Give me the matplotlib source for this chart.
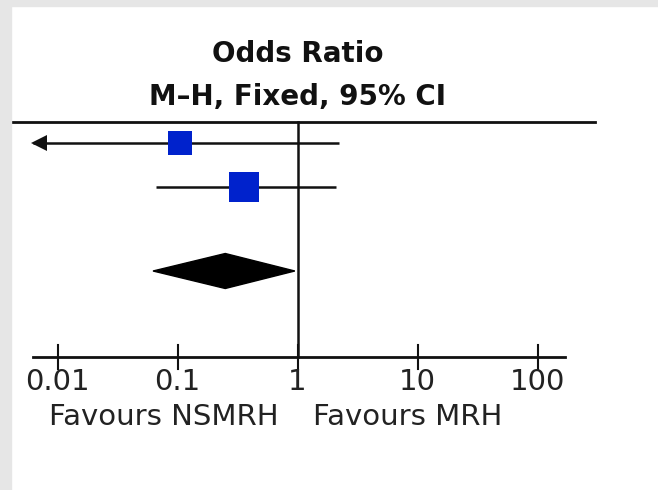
import numpy as np
import matplotlib.pyplot as plt
from matplotlib.patches import Rectangle, Polygon

# study rows (odds ratio, 95% CI) and weight-ish square size
study_or = [0.105, 0.36]
study_lo = [0.003, 0.066]
study_hi = [2.22, 2.09]
study_size = [17, 21]
pooled_or, pooled_lo, pooled_hi = 0.25, 0.0625, 0.95

tick_vals = [0.01, 0.1, 1, 10, 100]
tick_labels = ['0.01', '0.1', '1', '10', '100']
axis_lo, axis_hi = 0.00625, 170

W, H = 658, 490
fig = plt.figure(figsize=(W / 100, H / 100), dpi=100)
fig.patch.set_facecolor('white')
# grey frame strips on top and left
fig.patches.append(Rectangle((0, 1 - 6 / H), 1, 6 / H, transform=fig.transFigure,
                             color='#e6e6e6', zorder=0))
fig.patches.append(Rectangle((0, 0), 11 / W, 1, transform=fig.transFigure,
                             color='#e6e6e6', zorder=0))

ax = fig.add_axes([0, 0, 1, 1])
ax.set_xscale('log')
x1, dec = 297.5, 120.0  # pixel of OR=1, pixels per decade
ax.set_xlim(10 ** ((0 - x1) / dec), 10 ** ((W - x1) / dec))
ax.set_ylim(H, 0)
ax.axis('off')
ax.patch.set_alpha(0)

col = '#111111'
y_top, y_axis = 122, 357
row_y = [143, 187]
pool_y, pool_h = 271, 17.5
arrow_tip = 10 ** ((39 - x1) / dec)  # marker centre so the tip sits at the axis end

# header line and null line
ax.plot([10 ** ((11 - x1) / dec), 10 ** ((595 - x1) / dec)], [y_top, y_top], color=col, lw=2)
ax.plot([1, 1], [y_top, y_axis], color=col, lw=1.8)

for y, o, lo, hi, s in zip(row_y, study_or, study_lo, study_hi, study_size):
    left = max(lo, axis_lo)
    ax.plot([left, hi], [y, y], color=col, lw=1.8, solid_capstyle='butt')
    if lo < axis_lo:
        ax.plot(arrow_tip, y, marker='<', color=col, ms=11, mew=0)
    ax.plot(o, y, marker='s', color='#0022cc', ms=s, mew=0, zorder=3)

ax.add_patch(Polygon([(pooled_lo, pool_y), (pooled_or, pool_y - pool_h),
                      (pooled_hi, pool_y), (pooled_or, pool_y + pool_h)],
                     closed=True, color='black', zorder=3))

# x axis
ax.plot([axis_lo, axis_hi], [y_axis, y_axis], color=col, lw=2)
for v, lab in zip(tick_vals, tick_labels):
    ax.plot([v, v], [y_axis - 12, y_axis + 12], color=col, lw=1.5)
    ax.text(v, y_axis + 11, lab, ha='center', va='top', fontsize=21, color='#222222')

ax.text(0.7, 403, 'Favours NSMRH', ha='right', va='top', fontsize=21, color='#222222')
ax.text(1.35, 403, 'Favours MRH', ha='left', va='top', fontsize=21, color='#222222')

ax.text(1, 54, 'Odds Ratio', ha='center', va='center', fontsize=20, fontweight='bold', color='#111111')
ax.text(1, 97, 'M\u2013H, Fixed, 95% CI', ha='center', va='center', fontsize=20,
        fontweight='bold', color='#111111')

plt.savefig('out.png', dpi=100)
plt.close()
